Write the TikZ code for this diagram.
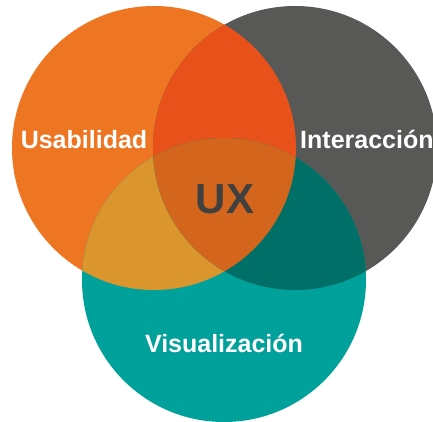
\documentclass[tikz,border=0pt]{standalone}
\usepackage{fontspec}
\setmainfont{Liberation Sans}
\usetikzlibrary{positioning}
\definecolor{usaorange}{HTML}{EE7623}
\definecolor{intgray}{HTML}{585857}
\definecolor{visteal}{HTML}{00A19A}
\definecolor{usaint}{HTML}{E8521A}
\definecolor{usavis}{HTML}{DB952D}
\definecolor{intvis}{HTML}{006F67}
\definecolor{uxcore}{HTML}{D3661C}
\definecolor{uxtext}{HTML}{404040}

\begin{document}
\begin{tikzpicture}[x=1pt,y=-1pt,every node/.style={align=center,inner sep=0pt},
area/.style={text=white,font=\bfseries\fontsize{25}{28}\selectfont},
core/.style={text=uxtext,font=\bfseries\fontsize{42}{46}\selectfont}]
\useasboundingbox (0,0) rectangle (433,422);
\coordinate (cu) at (154,148);
\coordinate (ci) at (295,148);
\coordinate (cv) at (224,280);
\fill[usaorange] (cu) circle (142pt);
\fill[intgray] (ci) circle (142pt);
\fill[visteal] (cv) circle (142pt);
% overlaps
\begin{scope}
  \clip (cu) circle (142pt);
  \fill[usaint] (ci) circle (142pt);
  \fill[usavis] (cv) circle (142pt);
\end{scope}
\begin{scope}
  \clip (ci) circle (142pt);
  \fill[intvis] (cv) circle (142pt);
\end{scope}
\begin{scope}
  \clip (cu) circle (142pt);
  \clip (ci) circle (142pt);
  \fill[uxcore] (cv) circle (142pt);
\end{scope}
\node[area,anchor=base] (usab) at (84,149) {Usabilidad};
\node[area,anchor=base west] (inter) at (300,149) {Interacción};
\node[area,anchor=base] (visu) at (224,352) {Visualización};
\node[core,anchor=base] (ux) at (225,213) {UX};
\end{tikzpicture}
\end{document}
